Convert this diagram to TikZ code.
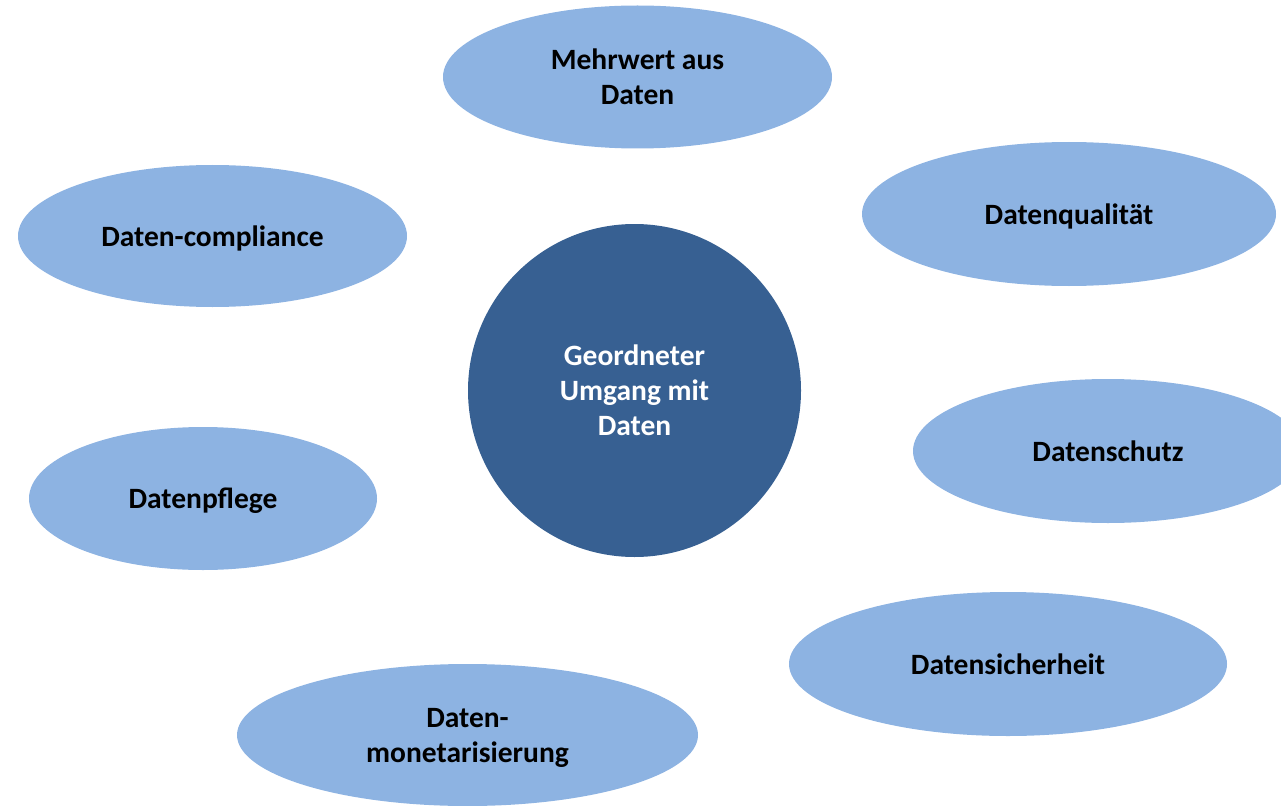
\documentclass[tikz,border=0pt]{standalone}
\usepackage{fontspec}
\setmainfont{Carlito}
\usepackage{tikz}
\usetikzlibrary{shapes.geometric, positioning}
\definecolor{lightTopic}{HTML}{8DB3E2}
\definecolor{darkCore}{HTML}{376092}

\begin{document}
\begin{tikzpicture}[x=1pt, y=-1pt, font=\bfseries\fontsize{29.5}{35}\selectfont,
  topic/.style={ellipse, fill=lightTopic, draw=none, align=center, inner sep=0pt, text depth=0pt},
  core/.style={circle, fill=darkCore, draw=none, text=white, align=center, minimum size=333pt}
]
	\useasboundingbox (0, 0) rectangle (1281, 805);
	\clip (0, 0) rectangle (1281, 805);

%------------- Center
	\node[core] (Core) at (634.5, 390.5) {Geordneter\\Umgang mit\\Daten};

%------------- Topics
	\node[topic, minimum width=389pt, minimum height=143pt] (Mehrwert) at (637.5, 77) {Mehrwert aus\\Daten};
	\node[topic, minimum width=414pt, minimum height=144pt] (Qualitaet) at (1069, 214) {Datenqualität};
	\node[topic, minimum width=389pt, minimum height=142pt] (Compliance) at (212.5, 236) {Daten-compliance};
	\node[topic, minimum width=390pt, minimum height=144pt] (Schutz) at (1108, 451) {Datenschutz};
	\node[topic, minimum width=348pt, minimum height=143pt] (Pflege) at (203, 498.5) {Datenpflege};
	\node[topic, minimum width=438pt, minimum height=144pt] (Sicherheit) at (1008, 664) {Datensicherheit};
	\node[topic, minimum width=461pt, minimum height=142pt] (Monetarisierung) at (467.5, 735) {Daten-\\monetarisierung};

\end{tikzpicture}
\end{document}
